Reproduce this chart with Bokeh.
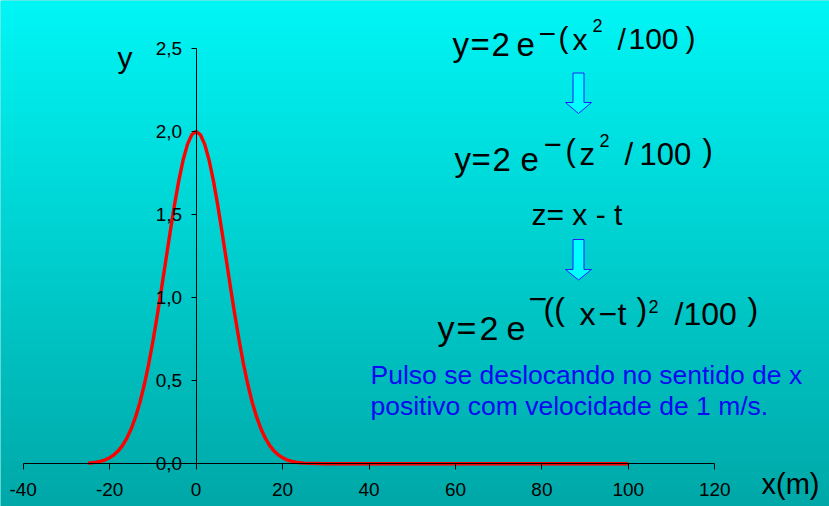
from bokeh.plotting import figure
from bokeh.models import (LinearAxis, FixedTicker, CustomJSTickFormatter,
                          Range1d, Label)
from bokeh.embed import file_html
from bokeh.resources import INLINE
import numpy as np

# ---- data -------------------------------------------------------------
pulse_x = [-25, -24, -23, -22, -21, -20, -19, -18, -17, -16, -15, -14, -13,
           -12, -11, -10, -9, -8, -7, -6, -5, -4, -3, -2, -1, 0,
           1, 2, 3, 4, 5, 6, 7, 8, 9, 10, 11, 12, 13, 14, 15, 16, 17, 18,
           19, 20, 21, 22, 23, 24, 25, 30, 40, 50, 60, 70, 80, 90, 100]
pulse_y = [0.004, 0.006, 0.010, 0.016, 0.024, 0.037, 0.054, 0.078, 0.111,
           0.155, 0.211, 0.282, 0.369, 0.474, 0.596, 0.736, 0.890, 1.055,
           1.225, 1.395, 1.558, 1.704, 1.828, 1.922, 1.980, 2.000,
           1.980, 1.922, 1.828, 1.704, 1.558, 1.395, 1.225, 1.055, 0.890,
           0.736, 0.596, 0.474, 0.369, 0.282, 0.211, 0.155, 0.111, 0.078,
           0.054, 0.037, 0.024, 0.016, 0.010, 0.006, 0.004,
           0.0, 0.0, 0.0, 0.0, 0.0, 0.0, 0.0, 0.0]
x_ticks = [-40, -20, 0, 20, 40, 60, 80, 100, 120]
y_ticks = [0, 0.5, 1.0, 1.5, 2.0, 2.5]

# ---- canvas geometry ----------------------------------------------------
W, H = 829, 506
X0_PX, PX_PER_X = 195.6, 4.3225     # screen x of x=0, pixels per unit
Y0_PX, PX_PER_Y = 463.3, 166.2      # screen y of y=0, pixels per unit


def dx(px):
    return (px - X0_PX) / PX_PER_X


def dy(py):
    return (Y0_PX - py) / PX_PER_Y


x_range = Range1d(dx(0), dx(W))
y_range = Range1d(dy(H), dy(0))

p = figure(width=W, height=H, output_backend="svg", toolbar_location=None,
           x_axis_location=None, y_axis_location=None,
           x_range=x_range, y_range=y_range, min_border=0)
p.outline_line_color = None
p.grid.visible = False
p.background_fill_color = "#00CCCC"
p.border_fill_color = "#00CCCC"

# vertical cyan-to-teal backdrop
n = 256
t = np.linspace(0.0, 1.0, n)          # 0 = bottom, 1 = top
img = np.empty((n, 2), dtype=np.uint32)
view = img.view(dtype=np.uint8).reshape((n, 2, 4))
g = (168 + (246 - 168) * t).astype(np.uint8)
view[:, :, 0] = 0
view[:, :, 1] = g[:, None]
view[:, :, 2] = g[:, None]
view[:, :, 3] = 255
p.image_rgba(image=[img], x=x_range.start, y=y_range.start,
             dw=x_range.end - x_range.start, dh=y_range.end - y_range.start)

# ---- axes crossing at the origin ----------------------------------------
FONT = "Liberation Sans"
xaxis = LinearAxis(fixed_location=0, ticker=FixedTicker(ticks=x_ticks),
                   bounds=(-40, 120),
                   formatter=CustomJSTickFormatter(
                       code="return tick.toFixed(0)"))
yaxis = LinearAxis(fixed_location=0, ticker=FixedTicker(ticks=y_ticks),
                   bounds=(0, 2.5),
                   formatter=CustomJSTickFormatter(
                       code="return tick.toFixed(1).replace('.', ',')"))
for ax in (xaxis, yaxis):
    ax.axis_line_color = "black"
    ax.axis_line_width = 1
    ax.major_tick_line_color = "black"
    ax.major_tick_in = 0
    ax.minor_tick_line_color = None
    ax.major_label_text_font = FONT
    ax.major_label_text_font_size = "19px"
    ax.major_label_text_color = "black"
xaxis.major_tick_out = 6
xaxis.major_label_standoff = 13
yaxis.major_tick_out = 5
yaxis.major_label_standoff = 9
p.add_layout(xaxis, "below")
p.add_layout(yaxis, "left")

# ---- the pulse ------------------------------------------------------------
p.line(pulse_x, pulse_y, line_color="#FF0000", line_width=3.4,
       line_join="round")


# ---- text helpers --------------------------------------------------------
def put(text, px, py, size, color="black"):
    # py is the wanted baseline; the label box sits a little low otherwise
    py = py - 0.27 * size
    p.add_layout(Label(x=dx(px), y=dy(py), text=text, text_font=FONT,
                       text_font_size=f"{size}px", text_color=color,
                       text_align="left", text_baseline="alphabetic"))


def equation(pieces, left, base):
    for text, ox, oy, size in pieces:
        put(text, left + ox, base + oy, size)


# axis titles
put("y", 117, 65, 30)
put("x(m)", 761, 491, 29)

# y = 2 e^-(x^2/100)
equation([("y", 0, 0, 33), ("=", 18, 0, 33), ("2", 39, 0, 33),
          ("e", 64, 0, 33), ("\u2212", 86, -11, 30), ("(", 106, -8, 30),
          ("x", 120, -6, 30), ("2", 140, -23, 18), ("/", 165, -6, 30),
          ("100", 176, -6, 30), (")", 233, -8, 30)], 452, 53)

# y = 2 e^-(z^2/100)
equation([("y", 0, 0, 33), ("=", 17, 0, 33), ("2", 38, 0, 33),
          ("e", 66, 0, 33), ("\u2212", 89, -16, 31), ("(", 111, -10, 31),
          ("z", 125, -6, 31), ("2", 145, -23, 18), ("/", 170, -6, 31),
          ("100", 185, -6, 31), (")", 248, -10, 31)], 454, 168)

put("z= x - t", 531, 222, 30)

# y = 2 e^-((x-t)^2/100)
equation([("y", 0, 0, 34), ("=", 19, 0, 34), ("2", 42, 0, 34),
          ("e", 69, 0, 34), ("\u2212", 91, -30, 32), ("((", 106, -20, 32),
          ("x", 142, -15, 32), ("\u2212", 161, -15, 32), ("t", 180, -15, 32),
          (")", 199, -20, 32), ("2", 211, -26, 18), ("/", 237, -15, 32),
          ("100", 246, -15, 32), (")", 310, -20, 32)], 437, 337)

# hollow down arrows between the steps
for top, neck, tip in ((72.5, 102, 113), (239, 269, 279.5)):
    xs = [572.5, 583.5, 583.5, 591, 578, 565, 572.5]
    ys = [top, top, neck, neck, tip, neck, neck]
    p.patch([dx(v) for v in xs], [dy(v) for v in ys], fill_color="#00FFFF",
            line_color="#2020FF", line_width=1)

put("Pulso se deslocando no sentido de x", 370, 382, 26.5, "#0A0AF0")
put("positivo com velocidade de 1 m/s.", 370, 413, 26.5, "#0A0AF0")

open("out.html", "w").write(file_html(p, INLINE))
